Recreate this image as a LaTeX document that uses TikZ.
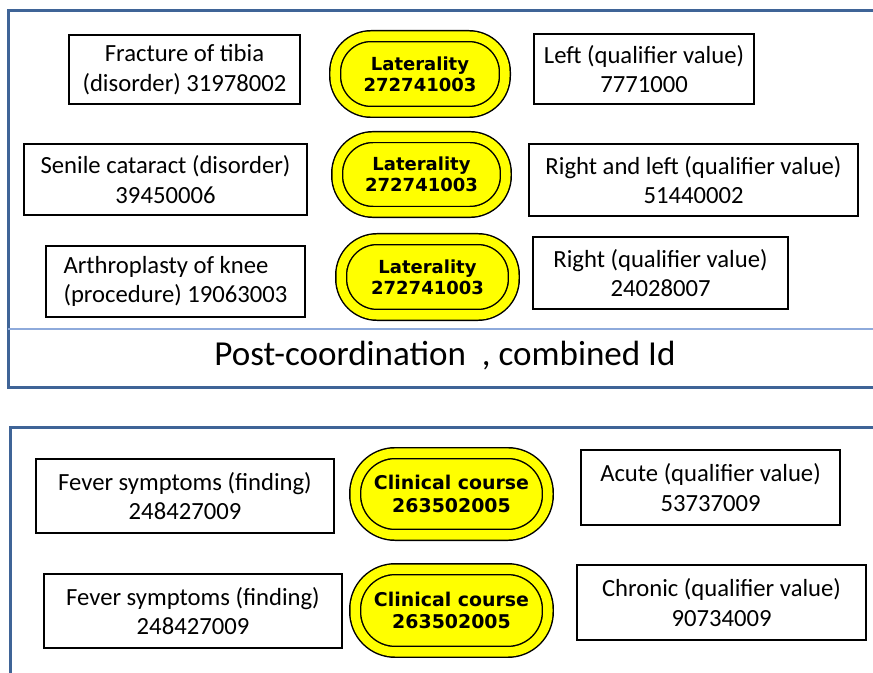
\documentclass[tikz,border=0pt]{standalone}
\usepackage{fontspec}
\setmainfont{Carlito}
\newfontfamily\pillfont{DejaVu Sans}
\usepackage{xcolor}
\usetikzlibrary{positioning}
\definecolor{FrameBlue}{HTML}{3F6497}
\definecolor{RuleBlue}{HTML}{8EAADB}
\definecolor{PillYellow}{HTML}{FFFF00}
\tikzset{
  concept/.style={draw=black,line width=1.5pt,fill=white,align=center,
                  inner sep=2pt,font=\fontsize{18.5}{22}\selectfont},
  attr/.style={draw=black,line width=1.1pt,fill=PillYellow,double=PillYellow,
               double distance=7pt,rounded corners=27pt,align=center,
               inner sep=0pt,font=\pillfont\bfseries\fontsize{13.5}{16}\selectfont},
  bigattr/.style={attr,font=\pillfont\bfseries\fontsize{14.2}{17}\selectfont},
  frame/.style={draw=FrameBlue,line width=2.25pt},
  rule/.style={draw=RuleBlue,line width=1pt},
  caption/.style={font=\fontsize{26.3}{31}\selectfont}
}
\begin{document}
\begin{tikzpicture}[x=0.75pt,y=-0.75pt]
  \useasboundingbox (0,0) rectangle (873,673);
  % frames
  \draw[frame] (890,11) -- (8,11) -- (8,387) -- (890,387);
  \draw[rule] (8,329) -- (890,329);
  \draw[frame] (890,427) -- (10,427) -- (10,690);

  % laterality rows
  \node[concept,minimum width=173.25pt,minimum height=51.75pt] (tibia) at (184.5,69.5)
    {Fracture of tibia\\(disorder) 31978002};
  \node[attr,minimum width=127.3pt,minimum height=56.8pt] (lat1) at (420,74)
    {Laterality\\272741003};
  \node[concept,minimum width=165pt,minimum height=52.5pt] (left) at (644,69)
    {Left (qualifier value)\\7771000};

  \node[concept,minimum width=212.25pt,minimum height=53.25pt] (cataract) at (165.5,179.5)
    {Senile cataract (disorder)\\39450006};
  \node[attr,minimum width=126.5pt,minimum height=56.1pt] (lat2) at (421.5,174.5)
    {Laterality\\272741003};
  \node[concept,minimum width=246.75pt,minimum height=54pt] (both) at (693.5,180)
    {Right and left (qualifier value)\\51440002};

  \node[concept,align=left,minimum width=194.25pt,minimum height=53.25pt] (knee) at (175.5,281.5)
    {Arthroplasty of knee\\(procedure) 19063003};
  \node[attr,minimum width=129.5pt,minimum height=56.8pt] (lat3) at (427.5,277)
    {Laterality\\272741003};
  \node[concept,minimum width=191.25pt,minimum height=54pt] (right) at (660.5,273)
    {Right (qualifier value)\\24028007};

  \node[caption] (title) at (445,356) {Post-coordination\ \ , combined Id};

  % clinical course rows
  \node[concept,minimum width=223.5pt,minimum height=55.5pt] (fever1) at (185,496)
    {Fever symptoms (finding)\\248427009};
  \node[bigattr,minimum width=144.5pt,minimum height=61.3pt,rounded corners=30pt] (course1) at (451.5,494)
    {Clinical course\\263502005};
  \node[concept,minimum width=194.25pt,minimum height=56.25pt] (acute) at (710.5,487.5)
    {Acute (qualifier value)\\53737009};

  \node[concept,minimum width=223.5pt,minimum height=55.5pt] (fever2) at (193,611)
    {Fever symptoms (finding)\\248427009};
  \node[bigattr,minimum width=144.5pt,minimum height=62pt,rounded corners=30pt] (course2) at (451.5,610.5)
    {Clinical course\\263502005};
  \node[concept,minimum width=216.75pt,minimum height=56.25pt] (chronic) at (721.5,602.5)
    {Chronic (qualifier value)\\90734009};
\end{tikzpicture}
\end{document}
